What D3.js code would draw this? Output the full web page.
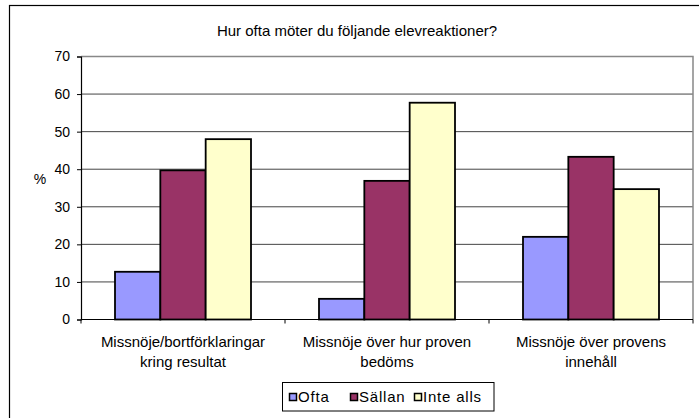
<!DOCTYPE html>
<html>
<head>
<meta charset="utf-8">
<script src="https://cdn.jsdelivr.net/npm/d3@7"></script>
<style>
  body { margin: 0; background: #fff; }
  svg { display: block; font-family: "Liberation Sans", Arial, sans-serif; }
</style>
</head>
<body>
<div id="chart"></div>
<script>
// data
const categories = [
  ["Missnöje/bortförklaringar", "kring resultat"],
  ["Missnöje över hur proven", "bedöms"],
  ["Missnöje över provens", "innehåll"]
];
const seriesNames = ["Ofta", "Sällan", "Inte alls"];
const ofta = [12.7, 5.5, 22.0];
const sallan = [39.7, 36.9, 43.3];
const inteAlls = [48.0, 57.7, 34.7];
const yTicks = [0, 10, 20, 30, 40, 50, 60, 70];
const colors = ["#9999ff", "#993366", "#ffffcc"];

const seriesValues = [ofta, sallan, inteAlls];

const width = 699;
const height = 418;
const plot = { left: 81, right: 693, top: 56.5, bottom: 319.5 };

const svg = d3.select("#chart")
  .append("svg")
  .attr("width", width)
  .attr("height", height);

// outer chart border (runs past the right and bottom edge)
svg.append("rect")
  .attr("x", 9.5)
  .attr("y", 5.5)
  .attr("width", 720)
  .attr("height", 440)
  .attr("fill", "none")
  .attr("stroke", "#000")
  .attr("stroke-width", 1.2);

const catKeys = categories.map((c, i) => i);

const x = d3.scaleBand()
  .domain(catKeys)
  .range([plot.left, plot.right])
  .paddingInner(0)
  .paddingOuter(0);

// gap width 150% -> 0.75 of a bar on each side
const xs = d3.scaleBand()
  .domain(seriesNames)
  .range([0, x.bandwidth()])
  .paddingInner(0)
  .paddingOuter(0.75);

const y = d3.scaleLinear()
  .domain([0, 70])
  .range([plot.bottom, plot.top]);

// gridlines
svg.append("g")
  .selectAll("line")
  .data(yTicks.filter(d => d > 0 && d < 70))
  .enter()
  .append("line")
  .attr("x1", plot.left)
  .attr("x2", plot.right)
  .attr("y1", d => y(d))
  .attr("y2", d => y(d))
  .attr("stroke", "#444")
  .attr("stroke-width", 1);

// plot area border (top and right are gray)
svg.append("path")
  .attr("d", `M${plot.left},${y(70)}H${plot.right}V${plot.bottom}`)
  .attr("fill", "none")
  .attr("stroke", "#888")
  .attr("stroke-width", 1.5);

// bars
const rows = [];
catKeys.forEach(i => {
  seriesNames.forEach((s, j) => {
    rows.push({ cat: i, series: s, value: seriesValues[j][i], color: colors[j] });
  });
});

svg.append("g")
  .selectAll("rect")
  .data(rows)
  .enter()
  .append("rect")
  .attr("x", d => x(d.cat) + xs(d.series))
  .attr("y", d => y(d.value))
  .attr("width", xs.bandwidth())
  .attr("height", d => y(0) - y(d.value))
  .attr("fill", d => d.color)
  .attr("stroke", "#000")
  .attr("stroke-width", 1.8);

// y axis
const yAxis = svg.append("g")
  .attr("transform", `translate(${plot.left},0)`)
  .call(d3.axisLeft(y).tickValues(yTicks).tickSize(4).tickPadding(7));

yAxis.select(".domain").attr("stroke", "#000").attr("stroke-width", 1.2);
yAxis.selectAll(".tick line").attr("stroke", "#000");
yAxis.selectAll(".tick text")
  .attr("font-size", 14)
  .attr("font-family", "Liberation Sans, Arial, sans-serif")
  .attr("fill", "#000");

// x axis with ticks on category boundaries
svg.append("line")
  .attr("x1", plot.left)
  .attr("x2", plot.right)
  .attr("y1", plot.bottom)
  .attr("y2", plot.bottom)
  .attr("stroke", "#000")
  .attr("stroke-width", 1.2);

const boundaries = catKeys.map(i => x(i)).concat([x(catKeys[catKeys.length - 1]) + x.bandwidth()]);
svg.append("g")
  .selectAll("line")
  .data(boundaries)
  .enter()
  .append("line")
  .attr("x1", d => d)
  .attr("x2", d => d)
  .attr("y1", plot.bottom)
  .attr("y2", plot.bottom + 4)
  .attr("stroke", "#000");

// category labels, two lines each
const labels = svg.append("g")
  .selectAll("text")
  .data(catKeys)
  .enter()
  .append("text")
  .attr("x", d => x(d) + x.bandwidth() / 2)
  .attr("y", 347)
  .attr("text-anchor", "middle")
  .attr("font-size", 15);

labels.each(function (d) {
  const t = d3.select(this);
  categories[d].forEach((line, k) => {
    t.append("tspan")
      .attr("x", x(d) + x.bandwidth() / 2)
      .attr("dy", k === 0 ? 0 : 20)
      .text(line);
  });
});

// axis title
svg.append("text")
  .attr("x", 40)
  .attr("y", 184)
  .attr("text-anchor", "middle")
  .attr("font-size", 14)
  .text("%");

// chart title
svg.append("text")
  .attr("x", 357)
  .attr("y", 36)
  .attr("text-anchor", "middle")
  .attr("font-size", 15)
  .text("Hur ofta möter du följande elevreaktioner?");

// legend
const legend = svg.append("g");
legend.append("rect")
  .attr("x", 282.5)
  .attr("y", 382.5)
  .attr("width", 211.5)
  .attr("height", 28.5)
  .attr("fill", "#fff")
  .attr("stroke", "#000");

const legendX = [289, 350, 414];
const items = legend.selectAll("g.item")
  .data(seriesNames)
  .enter()
  .append("g")
  .attr("class", "item")
  .attr("transform", (d, i) => `translate(${legendX[i]},0)`);

items.append("rect")
  .attr("x", 0.5)
  .attr("y", 393.5)
  .attr("width", 7)
  .attr("height", 7)
  .attr("fill", (d, i) => colors[i])
  .attr("stroke", "#000")
  .attr("stroke-width", 1.5);

items.append("text")
  .attr("x", 9)
  .attr("y", 402)
  .attr("font-size", 15)
  .attr("letter-spacing", 0.8)
  .text(d => d);
</script>
</body>
</html>
